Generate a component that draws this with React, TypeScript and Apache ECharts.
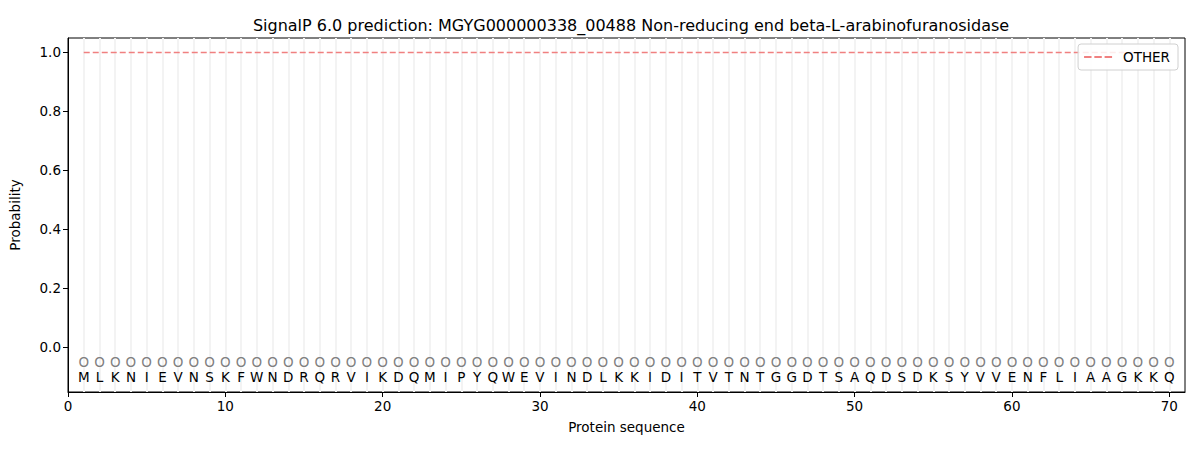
import React, { useEffect, useRef } from "react";
import * as echarts from "echarts";

const sequence = "MLKNIEVNSKFWNDRQRVIKDQMIPYQWEVINDLKKIDITVTNTGGDTSAQDSDKSYVVENFLIAAGKKQ";
const residues: string[] = sequence.split("");
const positions: number[] = residues.map((_, i) => i + 1);
const predictedClass: string[] = residues.map(() => "O");
const otherProb: number[] = [
  1, 1, 1, 1, 1, 1, 1, 1, 1, 1, 1, 1, 1, 1, 1, 1, 1, 1, 1, 1,
  1, 1, 1, 1, 1, 1, 1, 1, 1, 1, 1, 1, 1, 1, 1, 1, 1, 1, 1, 1,
  1, 1, 1, 1, 1, 1, 1, 1, 1, 1, 1, 1, 1, 1, 1, 1, 1, 1, 1, 1,
  1, 1, 1, 1, 1, 1, 1, 1, 1, 1,
];
const xTicks = [0, 10, 20, 30, 40, 50, 60, 70];
const yTicks = [0, 0.2, 0.4, 0.6, 0.8, 1.0];
const title =
  "SignalP 6.0 prediction: MGYG000000338_00488 Non-reducing end beta-L-arabinofuranosidase";

const FONT = "DejaVu Sans";

export default function App() {
  const ref = useRef<HTMLDivElement>(null);
  useEffect(() => {
    if (!ref.current) return;
    const chart = echarts.init(ref.current, null, { renderer: "svg" });
    const textSeries = (ys: number, labels: string[], color: string, name: string) => ({
      type: "custom",
      name,
      silent: true,
      data: positions.map((p, i) => [p, ys, i]),
      renderItem: (params: any, api: any) => {
        const pt = api.coord([api.value(0), api.value(1)]);
        const idx = api.value(2);
        return {
          type: "text",
          x: pt[0],
          y: pt[1],
          style: {
            text: labels[idx],
            fill: color,
            font: `13.5px "${FONT}"`,
            align: "center",
            verticalAlign: "middle",
          },
        };
      },
      z: 5,
    });
    chart.setOption({
      animation: false,
      title: {
        text: title,
        left: 626,
        top: 12,
        textAlign: "center",
        textStyle: { fontFamily: FONT, fontSize: 16, fontWeight: "normal", color: "#000" },
      },
      legend: {
        right: 22,
        top: 44,
        z: 20,
        data: [
          {
            name: "OTHER",
            icon: "path://M0 0H8V2H0Z M11 0H19V2H11Z M22 0H30V2H22Z",
          },
        ],
        itemWidth: 28,
        itemHeight: 2,
        borderColor: "#d0d0d0",
        borderWidth: 1,
        borderRadius: 3,
        padding: [6, 8, 6, 6],
        textStyle: { fontFamily: FONT, fontSize: 13.5, color: "#000", padding: [0, 0, 0, 6] },
        backgroundColor: "rgba(255,255,255,0.85)",
      },
      grid: {
        left: 67,
        right: 15,
        top: 38,
        bottom: 58,
        show: true,
        borderColor: "#000",
        borderWidth: 1,
        backgroundColor: "transparent",
      },
      xAxis: {
        type: "value",
        min: 0,
        max: 71,
        name: "Protein sequence",
        nameLocation: "middle",
        nameGap: 28,
        nameTextStyle: { fontFamily: FONT, fontSize: 13.5, color: "#000" },
        axisLine: { onZero: false, lineStyle: { color: "#000", width: 1 } },
        axisTick: { show: true, length: 5, lineStyle: { color: "#000" }, customValues: xTicks },
        axisLabel: {
          customValues: xTicks,
          fontFamily: FONT,
          fontSize: 13.5,
          color: "#000",
          margin: 7,
        },
        splitLine: { show: false },
      },
      yAxis: {
        type: "value",
        min: -0.1525,
        max: 1.049,
        name: "Probability",
        nameLocation: "middle",
        nameGap: 46,
        nameTextStyle: { fontFamily: FONT, fontSize: 13.5, color: "#000" },
        axisLine: { show: true, lineStyle: { color: "#000", width: 1 } },
        axisTick: { show: true, length: 5, lineStyle: { color: "#000" }, customValues: yTicks },
        axisLabel: {
          customValues: yTicks,
          fontFamily: FONT,
          fontSize: 13.5,
          color: "#000",
          margin: 7,
          formatter: (v: number) => v.toFixed(1),
        },
        splitLine: { show: false },
      },
      series: [
        {
          type: "line",
          name: "gridlines",
          data: [],
          silent: true,
          z: 1,
          markLine: {
            silent: true,
            symbol: "none",
            z: 1,
            label: { show: false },
            lineStyle: { color: "#f3f3f3", width: 2, type: "solid" },
            data: positions.map((p) => ({ xAxis: p })),
          },
        },
        {
          type: "line",
          name: "OTHER",
          data: positions.map((p, i) => [p, otherProb[i]]),
          showSymbol: false,
          symbol: "none",
          lineStyle: { color: "#f08080", width: 1.6, type: [6, 3] },
          itemStyle: { color: "#f08080" },
          z: 3,
        },
        textSeries(-0.05, predictedClass, "#808080", "cls"),
        textSeries(-0.1, residues, "#000", "seq"),
      ],
    });
    return () => chart.dispose();
  }, []);
  return (
    <div
      ref={ref}
      style={{ position: "fixed", left: 0, top: 0, width: 1200, height: 450, background: "#fff" }}
    />
  );
}
